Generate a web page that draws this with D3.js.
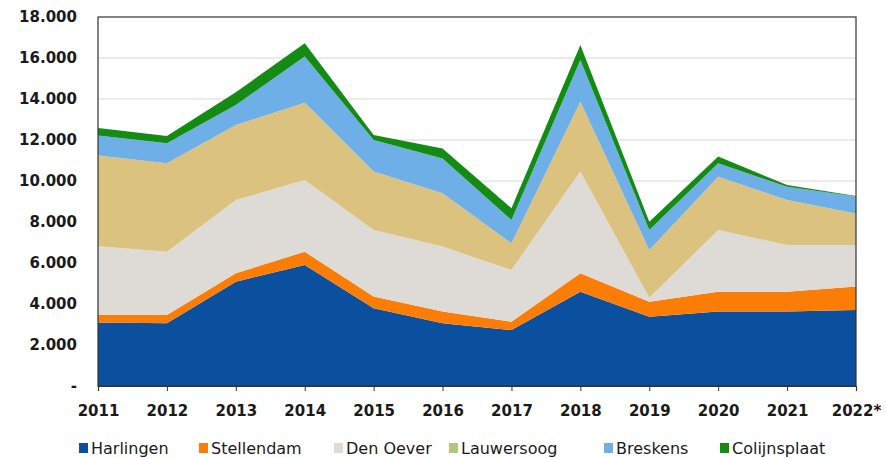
<!DOCTYPE html>
<html>
<head>
<meta charset="utf-8">
<script src="https://cdn.jsdelivr.net/npm/d3@7"></script>
<style>
  html, body { margin: 0; padding: 0; background: #fff; }
  svg { display: block; }
</style>
</head>
<body>
<svg id="chart" width="886" height="458"></svg>
<script>
const years = ["2011","2012","2013","2014","2015","2016","2017","2018","2019","2020","2021","2022*"];
const seriesNames = ["Harlingen","Stellendam","Den Oever","Lauwersoog","Breskens","Colijnsplaat"];
const harlingen    = [3100, 3060, 5090, 5900, 3790, 3060, 2730, 4600, 3380, 3630, 3630, 3710];
const stellendam   = [ 380,  400,  410,  650,  570,  570,  410,  900,  730,  970,  970, 1140];
const denOever     = [3340, 3090, 3570, 3500, 3250, 3170, 2520, 4960,  190, 3010, 2280, 2030];
const lauwersoog   = [4420, 4310, 3660, 3770, 2850, 2600, 1300, 3410, 2330, 2600, 2190, 1540];
const breskens     = [ 980,  980,  980, 2250, 1540, 1700, 1140, 2030,  980,  650,  650,  820];
const colijnsplaat = [ 370,  360,  620,  650,  240,  490,  570,  730,  400,  330,   80,   30];
const yTicks = [0, 2000, 4000, 6000, 8000, 10000, 12000, 14000, 16000, 18000];
const yTickLabels = ["-", "2.000", "4.000", "6.000", "8.000", "10.000", "12.000", "14.000", "16.000", "18.000"];

const areaColors   = ["#0a509f", "#fb7d05", "#dedad6", "#dcc27f", "#6fafe8", "#148c14"];
const legendColors = ["#0a509f", "#fb7d05", "#dedad6", "#b3c77c", "#6fafe8", "#148c14"];

(function () {
const valuesBySeries = [harlingen, stellendam, denOever, lauwersoog, breskens, colijnsplaat];
const table = years.map((yr, i) => {
  const row = { year: yr };
  seriesNames.forEach((s, k) => row[s] = valuesBySeries[k][i]);
  return row;
});

const svg = d3.select("#chart");
const pL = 98, pR = 856, pT = 17, pB = 386;
const font = "'DejaVu Sans', Verdana, sans-serif";

const x = d3.scalePoint().domain(years).range([pL, pR]);
const y = d3.scaleLinear().domain([0, 18000]).range([pB, pT]);

svg.append("g").selectAll("line")
  .data(yTicks.filter(t => t > 0 && t < 18000))
  .join("line")
  .attr("x1", pL).attr("x2", pR)
  .attr("y1", d => y(d)).attr("y2", d => y(d))
  .attr("stroke", "#d6d6d6").attr("stroke-width", 1);

const stacked = d3.stack().keys(seriesNames)(table);
const area = d3.area()
  .x(d => x(d.data.year))
  .y0(d => y(d[0]))
  .y1(d => y(d[1]));

svg.append("g").selectAll("path")
  .data(stacked)
  .join("path")
  .attr("d", area)
  .attr("fill", (d, i) => areaColors[i]);

svg.append("rect")
  .attr("x", pL).attr("y", pT)
  .attr("width", pR - pL).attr("height", pB - pT)
  .attr("fill", "none").attr("stroke", "#333").attr("stroke-width", 1.2);

const gx = svg.append("g").attr("transform", `translate(0,${pB})`)
  .call(d3.axisBottom(x).tickSize(5).tickPadding(14));
gx.select(".domain").attr("stroke", "#333").attr("stroke-width", 1.2);
gx.selectAll(".tick line").attr("stroke", "#333");
gx.selectAll("text")
  .attr("font-family", font)
  .attr("font-weight", "bold").attr("font-size", "15px").attr("fill", "#1a1a1a");

const gy = svg.append("g").attr("transform", `translate(${pL},0)`)
  .call(d3.axisLeft(y).tickValues(yTicks).tickSize(0).tickPadding(21)
    .tickFormat((d, i) => yTickLabels[i]));
gy.select(".domain").remove();
gy.selectAll("text")
  .attr("font-family", font)
  .attr("font-weight", "bold").attr("font-size", "15px").attr("fill", "#1a1a1a");

const legendX = [79, 199, 334, 449, 604, 720];
const lg = svg.append("g");
seriesNames.forEach((s, i) => {
  const g = lg.append("g").attr("transform", `translate(${legendX[i]},443)`);
  g.append("rect").attr("x", 0).attr("y", 0).attr("width", 9).attr("height", 10)
    .attr("fill", legendColors[i]);
  g.append("text").attr("x", 12).attr("y", 10.5)
    .attr("font-family", font)
    .attr("font-size", "16px").attr("fill", "#1a1a1a")
    .text(s);
});
})();
</script>
</body>
</html>
